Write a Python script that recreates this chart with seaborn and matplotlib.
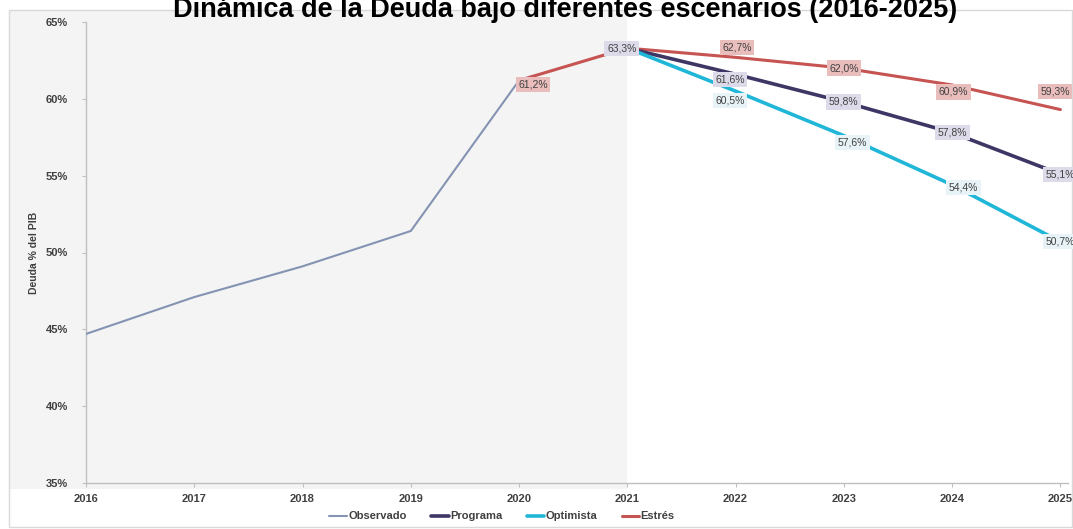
import matplotlib
matplotlib.use("Agg")
import matplotlib.pyplot as plt
from matplotlib.patches import Rectangle
import seaborn as sns
import pandas as pd

# Debt ratio (% of GDP), observed history and projection scenarios
years_obs = [2016, 2017, 2018, 2019, 2020]
observado = [44.7, 47.1, 49.1, 51.4, 61.2]

years_proj = [2021, 2022, 2023, 2024, 2025]
programa = [63.3, 61.6, 59.8, 57.8, 55.1]
optimista = [63.3, 60.5, 57.6, 54.4, 50.7]

years_estres = [2020, 2021, 2022, 2023, 2024, 2025]
estres = [61.2, 63.3, 62.7, 62.0, 60.9, 59.3]

x_ticks = list(range(2016, 2026))
y_ticks = [35, 40, 45, 50, 55, 60, 65]

title = "Dinámica de la Deuda bajo diferentes escenarios (2016-2025)"
y_label = "Deuda % del PIB"

sns.set_theme(style="white")
plt.rcParams["font.family"] = ["Liberation Sans Narrow", "Liberation Sans", "DejaVu Sans"]

W, H = 1073, 529
fig = plt.figure(figsize=(W / 100, H / 100), dpi=100)
ax = fig.add_axes([86 / W, 46 / H, (1068 - 86) / W, 461 / H])
ax.set_facecolor("none")

frames = [
    pd.DataFrame({"Año": years_obs, "Deuda": observado, "Serie": "Observado"}),
    pd.DataFrame({"Año": years_proj, "Deuda": programa, "Serie": "Programa"}),
    pd.DataFrame({"Año": years_proj, "Deuda": optimista, "Serie": "Optimista"}),
    pd.DataFrame({"Año": years_estres, "Deuda": estres, "Serie": "Estrés"}),
]
df = pd.concat(frames, ignore_index=True)

styles = {
    "Observado": dict(color="#8593b3", lw=1.5),
    "Programa": dict(color="#3e3766", lw=2.6),
    "Optimista": dict(color="#1fb6d8", lw=2.6),
    "Estrés": dict(color="#c55452", lw=2.2),
}
label_bg = {
    "Programa": "#dddbea",
    "Optimista": "#e8f3f8",
    "Estrés": "#e8bdbc",
}

ax.set_xlim(2016, 2025.07)
ax.set_ylim(35, 65)

# Shaded band for the historical period, carried into the chart margins
fig.canvas.draw()
x2021_px = ax.transData.transform((2021, 35))[0]
ax.add_patch(Rectangle((9 / W, 40 / H), x2021_px / W - 9 / W, (H - 10 - 40) / H,
                       transform=fig.transFigure, facecolor="#f4f4f4",
                       edgecolor="none", zorder=0, clip_on=False))
# Chart border
ax.add_patch(Rectangle((9 / W, 2 / H), (W - 10) / W, (H - 12) / H,
                       transform=fig.transFigure, facecolor="none",
                       edgecolor="#d9d9d9", lw=1.0, zorder=0.5, clip_on=False))

for name in ["Observado", "Programa", "Optimista", "Estrés"]:
    sub = df[df["Serie"] == name]
    sns.lineplot(data=sub, x="Año", y="Deuda", ax=ax, color=styles[name]["color"],
                 lw=styles[name]["lw"], label=name, zorder=3 if name != "Estrés" else 2)

# Value labels (offsets in points)
def put_labels(xs, ys, bg, offsets, skip=()):
    for i, (xv, yv) in enumerate(zip(xs, ys)):
        if i in skip:
            continue
        dx, dy = offsets.get(i, (0, 0))
        ax.annotate(f"{yv:.1f}%".replace(".", ","), (xv, yv), xytext=(dx, dy),
                    textcoords="offset points", ha="center", va="center",
                    fontsize=7.5, color="#404040", zorder=5, annotation_clip=False,
                    bbox=dict(boxstyle="square,pad=0.25", fc=bg, ec="none"))

put_labels(years_proj, programa, label_bg["Programa"], {0: (-4, 0), 1: (-4, -4)})
put_labels(years_proj, optimista, label_bg["Optimista"], {1: (-4, -7), 2: (6, -5), 3: (8, -2)}, skip=(0,))
put_labels(years_estres, estres, label_bg["Estrés"], {0: (10, -3), 2: (1, 7), 4: (1, -5), 5: (-4, 13)}, skip=(1,))

ax.set_xticks(x_ticks)
ax.set_xticklabels([str(v) for v in x_ticks])
ax.set_yticks(y_ticks)
ax.set_yticklabels([f"{v}%" for v in y_ticks])
ax.tick_params(axis="both", labelsize=8, colors="#404040", length=3, width=0.8,
               left=True, bottom=True, direction="out")
ax.tick_params(axis="both", color="#bfbfbf")
ax.tick_params(axis="y", pad=10)
ax.tick_params(axis="x", pad=5)
for lab in ax.get_xticklabels() + ax.get_yticklabels():
    lab.set_fontweight("bold")
ax.set_xlabel("")
ax.set_ylabel(y_label, fontsize=7.5, color="#404040", fontweight="bold", labelpad=5)

for s in ["top", "right"]:
    ax.spines[s].set_visible(False)
for s in ["left", "bottom"]:
    ax.spines[s].set_color("#bfbfbf")
    ax.spines[s].set_linewidth(1.0)
ax.grid(False)

leg = ax.legend(loc="upper center", bbox_to_anchor=(502 / W, 22 / H), bbox_transform=fig.transFigure,
                ncol=4, frameon=False, fontsize=8, handlelength=1.6, handletextpad=0.1,
                columnspacing=2.2, borderaxespad=0)
for t in leg.get_texts():
    t.set_fontweight("bold")
    t.set_color("#404040")

fig.text(565 / W, 1 - 17 / H, title, ha="center", va="baseline", fontsize=19.5,
         fontweight="bold", family=["Liberation Sans", "DejaVu Sans"], color="black")

fig.savefig("out.png", dpi=100)
